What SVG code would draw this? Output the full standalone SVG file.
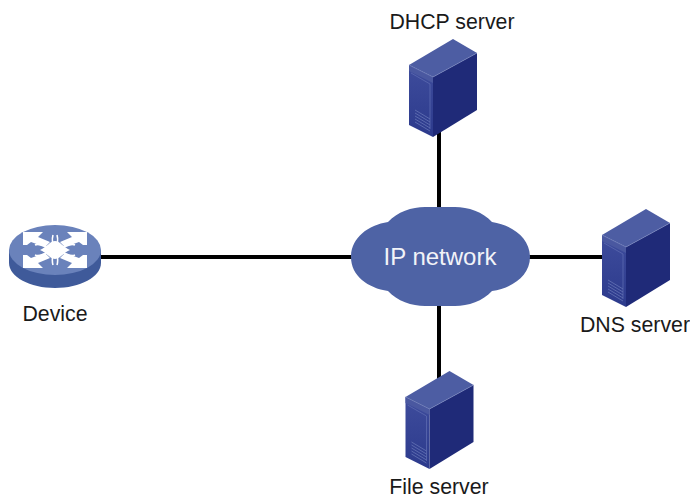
<svg xmlns="http://www.w3.org/2000/svg" width="690" height="499" viewBox="0 0 690 499">
<style>
.lbl{font-family:"Liberation Sans",Arial,sans-serif;font-size:21.3px;fill:#1a1a1a;text-anchor:middle}
.cl{font-family:"Liberation Sans",Arial,sans-serif;font-size:24px;fill:#f2f3f8;text-anchor:middle}
.link{stroke:#000;stroke-width:4;fill:none}
</style>
<defs>
<linearGradient id="face" x1="0" y1="0" x2="0" y2="1"><stop offset="0" stop-color="#3e4c9c"/><stop offset="1" stop-color="#2c3a8c"/></linearGradient>
<g id="srv">
<polygon points="24,38 68,14 68,71 24,98" fill="#1f2a78"/>
<polygon points="0,26 24,38 24,98 0,86" fill="url(#face)"/>
<polygon points="0,26 44,0 68,14 24,38" fill="#4d5da3"/>
<polygon points="0,26 24,38 24,44 0,32" fill="#4a58a0"/>
<polyline points="2,34 21,45 21,90" fill="none" stroke="#5c6ab0" stroke-width="0.8"/>
<path d="M6,71 21,80M6,74 21,83M6,77 21,86M6,80 21,89M6,83 21,92" stroke="#6573b5" stroke-width="0.8"/>
<polyline points="0,26 24,38 68,14" fill="none" stroke="#7a88c0" stroke-width="0.6"/>
</g>
<g id="quad">
<polygon points="-32,-18 -12,-18 -17,-13 -5,-8 -10,-3 -24,-8 -28,-5 -32,-5" fill="#fff"/>
<path d="M-20,-5C-14,-8 -10,-1 -3,-2C-1,-5 -4,-9 -2,-15" fill="none" stroke="#fff" stroke-width="1.6"/>
</g>
</defs>
<g id="connectors">
<line class="link" x1="100" y1="257" x2="355" y2="257"/>
<line class="link" x1="526" y1="257" x2="604" y2="257"/>
<line class="link" x1="439" y1="130" x2="439" y2="210"/>
<line class="link" x1="439" y1="300" x2="439" y2="380"/>
</g>
<g id="device">
<path d="M9,250V263C9,277 30,288 55,288S101,277 101,263V250Z" fill="#3f5a9a"/>
<ellipse cx="55" cy="250" rx="46" ry="25" fill="#6a82bb"/>
<g transform="translate(55 250)">
<use href="#quad"/>
<use href="#quad" transform="scale(-1 1)"/>
<use href="#quad" transform="scale(1 -1)"/>
<use href="#quad" transform="scale(-1 -1)"/>
<path d="M-15,0C-8,-3 -5,-9 0,-9S8,-3 15,0C8,3 5,9 0,9S-8,3 -15,0Z" fill="#fff"/>
</g>
<text class="lbl" x="55" y="321">Device</text>
</g>
<g id="ip-network">
<path d="M351,257C351,238 368,225 388,222C397,212 412,207 425,207L455,207C468,207 483,212 492,222C512,225 530,238 530,257C530,276 512,288 492,291C483,301 468,306 455,306L425,306C412,306 397,301 388,291C368,288 351,276 351,257Z" fill="#4e63a5"/>
<text class="cl" x="440" y="265">IP network</text>
</g>
<g id="dhcp-server">
<use href="#srv" x="409" y="39"/>
<text class="lbl" x="452" y="29">DHCP server</text>
</g>
<g id="dns-server">
<use href="#srv" x="602" y="209"/>
<text class="lbl" x="635" y="332">DNS server</text>
</g>
<g id="file-server">
<use href="#srv" x="405.500" y="371"/>
<text class="lbl" x="439" y="494.400">File server</text>
</g>
</svg>
